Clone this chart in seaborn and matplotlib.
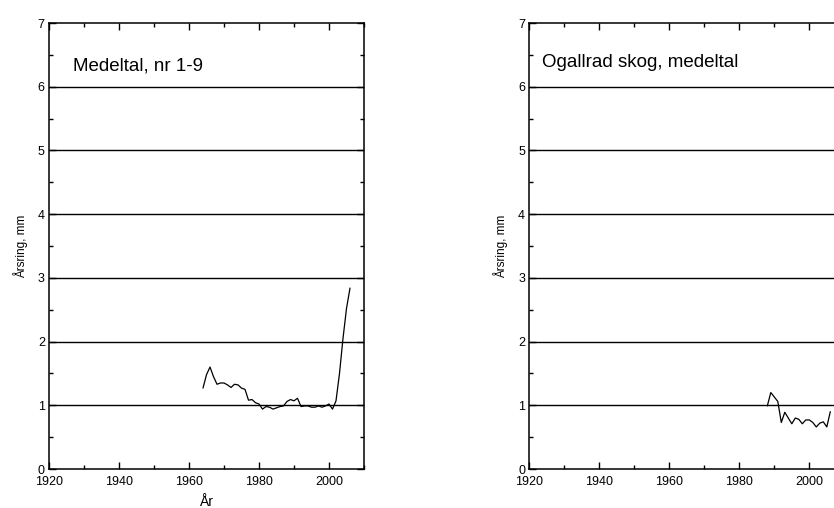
import numpy as np
import pandas as pd
import matplotlib
matplotlib.use("Agg")
import matplotlib.pyplot as plt
from matplotlib.ticker import MultipleLocator
import seaborn as sns

# ---- data ----
years_left = list(range(1964, 2007))
values_left = [1.27, 1.48, 1.60, 1.45, 1.33, 1.35, 1.35, 1.32, 1.28, 1.33,
               1.32, 1.27, 1.25, 1.08, 1.09, 1.04, 1.02, 0.94, 0.98, 0.97,
               0.94, 0.96, 0.98, 0.99, 1.06, 1.09, 1.07, 1.11, 0.98, 0.99,
               0.99, 0.97, 0.97, 0.99, 0.97, 0.99, 1.02, 0.94, 1.07, 1.50,
               2.05, 2.52, 2.84]
years_right = list(range(1988, 2007))
values_right = [0.99, 1.20, 1.13, 1.06, 0.73, 0.89, 0.80, 0.71, 0.80, 0.78,
                0.71, 0.77, 0.77, 0.73, 0.66, 0.72, 0.74, 0.66, 0.90]
titles = ["Medeltal, nr 1-9", "Ogallrad skog, medeltal"]
ylabel = "Årsring, mm"
xlabel = "År"

sns.set_theme(style="ticks")
plt.rcParams['font.family'] = ['Liberation Sans', 'DejaVu Sans']

fig = plt.figure(figsize=(8.34, 5.08), dpi=100)
ax1 = fig.add_axes([49/834, 39/508, 315/834, 446/508])
ax2 = fig.add_axes([529.3/834, 39/508, 315/834, 446/508])

df_l = pd.DataFrame({"year": years_left, "value": values_left})
df_r = pd.DataFrame({"year": years_right, "value": values_right})

for ax, df, title, tpos in [(ax1, df_l, titles[0], (0.075, 0.893)),
                            (ax2, df_r, titles[1], (0.039, 0.902))]:
    ax.set_facecolor("white")
    for gy in range(1, 7):
        ax.axhline(gy, color="black", lw=1.0, zorder=1)
    sns.lineplot(data=df, x="year", y="value", ax=ax, color="black", lw=0.9, zorder=3)
    ax.set_xlim(1920, 2010)
    ax.set_ylim(0, 7)
    ax.xaxis.set_major_locator(MultipleLocator(20))
    ax.xaxis.set_minor_locator(MultipleLocator(10))
    ax.yaxis.set_major_locator(MultipleLocator(1))
    ax.yaxis.set_minor_locator(MultipleLocator(0.5))
    ax.tick_params(which="both", direction="in", top=True, right=True,
                   color="black", width=1.0, labelsize=9, labelcolor="black")
    ax.tick_params(which="major", length=5)
    ax.tick_params(axis="x", which="major", pad=5)
    ax.tick_params(axis="y", which="major", pad=3)
    ax.tick_params(which="minor", length=3)
    for s in ax.spines.values():
        s.set_color("black")
        s.set_linewidth(1.1)
    ax.set_ylabel(ylabel, fontsize=8.5, color="black", labelpad=7)
    ax.set_xlabel("")
    ax.text(tpos[0], tpos[1], title, transform=ax.transAxes, fontsize=13.5,
            color="black", ha="left", va="baseline")
    ax.grid(False)

ax1.set_xlabel(xlabel, fontsize=10, color="black", labelpad=5)

fig.savefig("out.png", dpi=100, facecolor="white")
